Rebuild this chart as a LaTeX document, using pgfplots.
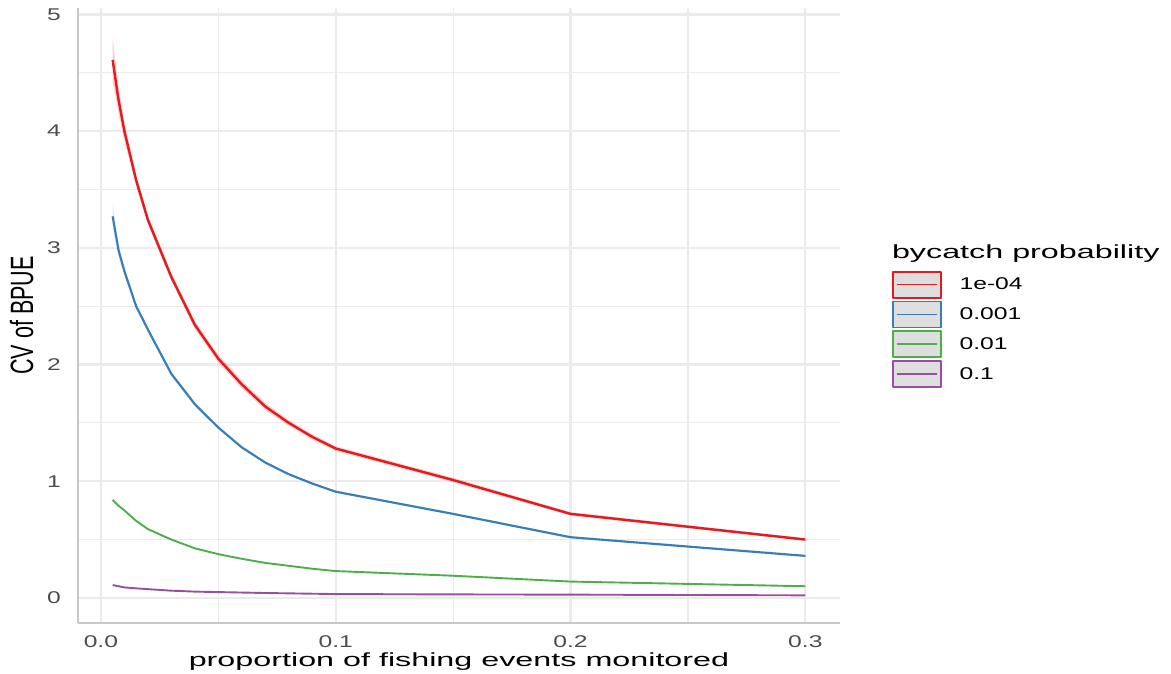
\documentclass[border=0pt]{standalone}
\usepackage{fontspec}
\setmainfont{Liberation Sans}
\newfontfamily\titlefont{Liberation Sans}[FakeStretch=1.7]
\newfontfamily\smallfont{Liberation Sans}[FakeStretch=1.45]
\usepackage{graphicx}
\usepackage{pgfplots}
\pgfplotsset{compat=1.18}
\usepgfplotslibrary{fillbetween}
\definecolor{cred}{HTML}{E41A1C}
\definecolor{cblue}{HTML}{377EB8}
\definecolor{cgreen}{HTML}{4DAF4A}
\definecolor{cpurple}{HTML}{984EA3}
\definecolor{gridgray}{HTML}{EBEBEB}
\definecolor{axisgray}{HTML}{C8C8C8}
\definecolor{tickgray}{HTML}{4D4D4D}
\definecolor{legfill}{HTML}{DEDEDE}
\begin{document}
\begin{tikzpicture}
\begin{axis}[
  at={(0pt,0pt)}, anchor=south west,
  scale only axis, width=762pt, height=615pt,
  xmin=-0.00975, xmax=0.31475, ymin=-0.215, ymax=5.055,
  clip=false,
  axis x line*=bottom, axis y line*=left,
  axis line style={draw=axisgray, line width=2.2pt},
  major tick length=0pt, minor tick length=0pt,
  tick style={draw=none},
  grid=both,
  major grid style={draw=gridgray, line width=2.2pt},
  minor grid style={draw=gridgray, line width=1.2pt},
  xtick={0,0.1,0.2,0.3}, xticklabels={0.0,0.1,0.2,0.3},
  minor xtick={0.05,0.15,0.25},
  ytick={0,1,2,3,4,5}, minor ytick={0.5,1.5,2.5,3.5,4.5},
  /pgf/number format/assume math mode=true,
  xticklabel style={font=\smallfont\fontsize{17}{20}\selectfont, text=tickgray, anchor=base, yshift=-24pt, inner sep=0pt},
  yticklabel style={font=\smallfont\fontsize{17}{20}\selectfont, text=tickgray, anchor=east, xshift=-17pt, inner sep=0pt},
  xlabel={proportion of fishing events monitored},
  xlabel style={font=\titlefont\fontsize{19}{22}\selectfont, at={(axis description cs:0.5,-0.0715)}, anchor=base, inner sep=0pt},
  ylabel={\scalebox{1}[1.5]{CV of BPUE}},
  ylabel style={font=\fontsize{21.5}{24}\selectfont, at={(axis description cs:-0.0741,0.5)}, anchor=center, inner sep=0pt},
  legend cell align=left,
  legend style={at={(axis description cs:1.068,0.5728)}, anchor=north west, draw=none, fill=none,
    inner sep=0pt, outer sep=0pt, row sep=2pt, column sep=18pt,
    nodes={inner sep=0pt, font=\smallfont\fontsize{17}{20}\selectfont}},
  legend image code/.code={
    \draw[#1, fill=legfill, line width=1.8pt] (0pt,-13pt) rectangle (48pt,13pt);
    \draw[#1, line width=1.6pt] (4pt,0pt) -- (44pt,0pt);
  },
]
% ribbons
\addplot[draw=none, name path=rU, forget plot] coordinates {(0.005,4.80)(0.0075,4.38)(0.01,4.08)(0.015,3.63)(0.02,3.28)(0.03,2.785)(0.04,2.375)(0.05,2.085)(0.06,1.865)(0.07,1.67)(0.08,1.525)(0.09,1.405)(0.1,1.30)(0.15,1.03)(0.2,0.735)(0.3,0.512)};
\addplot[draw=none, name path=rL, forget plot] coordinates {(0.005,4.42)(0.0075,4.16)(0.01,3.92)(0.015,3.53)(0.02,3.20)(0.03,2.715)(0.04,2.305)(0.05,2.015)(0.06,1.795)(0.07,1.61)(0.08,1.475)(0.09,1.355)(0.1,1.26)(0.15,0.99)(0.2,0.705)(0.3,0.488)};
\addplot[fill=cred, fill opacity=0.2, draw=none, forget plot] fill between[of=rU and rL];
\addplot[draw=none, name path=bU, forget plot] coordinates {(0.005,3.37)(0.0075,3.04)(0.01,2.84)(0.015,2.53)(0.02,2.32)(0.03,1.94)(0.04,1.68)(0.05,1.475)(0.06,1.30)(0.07,1.17)(0.08,1.07)(0.09,0.99)(0.1,0.92)(0.15,0.73)(0.2,0.53)(0.3,0.37)};
\addplot[draw=none, name path=bL, forget plot] coordinates {(0.005,3.17)(0.0075,2.92)(0.01,2.76)(0.015,2.47)(0.02,2.28)(0.03,1.90)(0.04,1.64)(0.05,1.445)(0.06,1.28)(0.07,1.15)(0.08,1.05)(0.09,0.97)(0.1,0.90)(0.15,0.71)(0.2,0.51)(0.3,0.35)};
\addplot[fill=cblue, fill opacity=0.15, draw=none, forget plot] fill between[of=bU and bL];
% lines
\addplot[color=cred, line width=2.4pt, line join=round] coordinates {(0.005,4.61)(0.0075,4.27)(0.01,4.00)(0.015,3.58)(0.02,3.24)(0.03,2.75)(0.04,2.34)(0.05,2.05)(0.06,1.83)(0.07,1.64)(0.08,1.50)(0.09,1.38)(0.1,1.28)(0.15,1.01)(0.2,0.72)(0.3,0.50)};
\addlegendentry{1e-04}
\addplot[color=cblue, line width=2.1pt, line join=round] coordinates {(0.005,3.27)(0.0075,2.98)(0.01,2.80)(0.015,2.50)(0.02,2.30)(0.03,1.92)(0.04,1.66)(0.05,1.46)(0.06,1.29)(0.07,1.16)(0.08,1.06)(0.09,0.98)(0.1,0.91)(0.15,0.72)(0.2,0.52)(0.3,0.36)};
\addlegendentry{0.001}
\addplot[color=cgreen, line width=1.9pt, line join=round] coordinates {(0.005,0.84)(0.0075,0.79)(0.01,0.75)(0.015,0.66)(0.02,0.59)(0.03,0.50)(0.04,0.425)(0.05,0.375)(0.06,0.335)(0.07,0.30)(0.08,0.275)(0.09,0.25)(0.1,0.23)(0.15,0.19)(0.2,0.14)(0.3,0.10)};
\addlegendentry{0.01}
\addplot[color=cpurple, line width=1.9pt, line join=round] coordinates {(0.005,0.11)(0.0075,0.10)(0.01,0.09)(0.015,0.082)(0.02,0.075)(0.03,0.062)(0.04,0.054)(0.05,0.05)(0.06,0.046)(0.07,0.042)(0.08,0.039)(0.09,0.036)(0.1,0.033)(0.15,0.03)(0.2,0.028)(0.3,0.022)};
\addlegendentry{0.1}
\node[anchor=west, inner sep=0pt, font=\titlefont\fontsize{19}{22}\selectfont] at (axis description cs:1.068,0.601) {bycatch probability};
\end{axis}
\pgfresetboundingbox
\useasboundingbox (-78pt,-50pt) rectangle (1093pt,623pt);
\end{tikzpicture}
\end{document}
